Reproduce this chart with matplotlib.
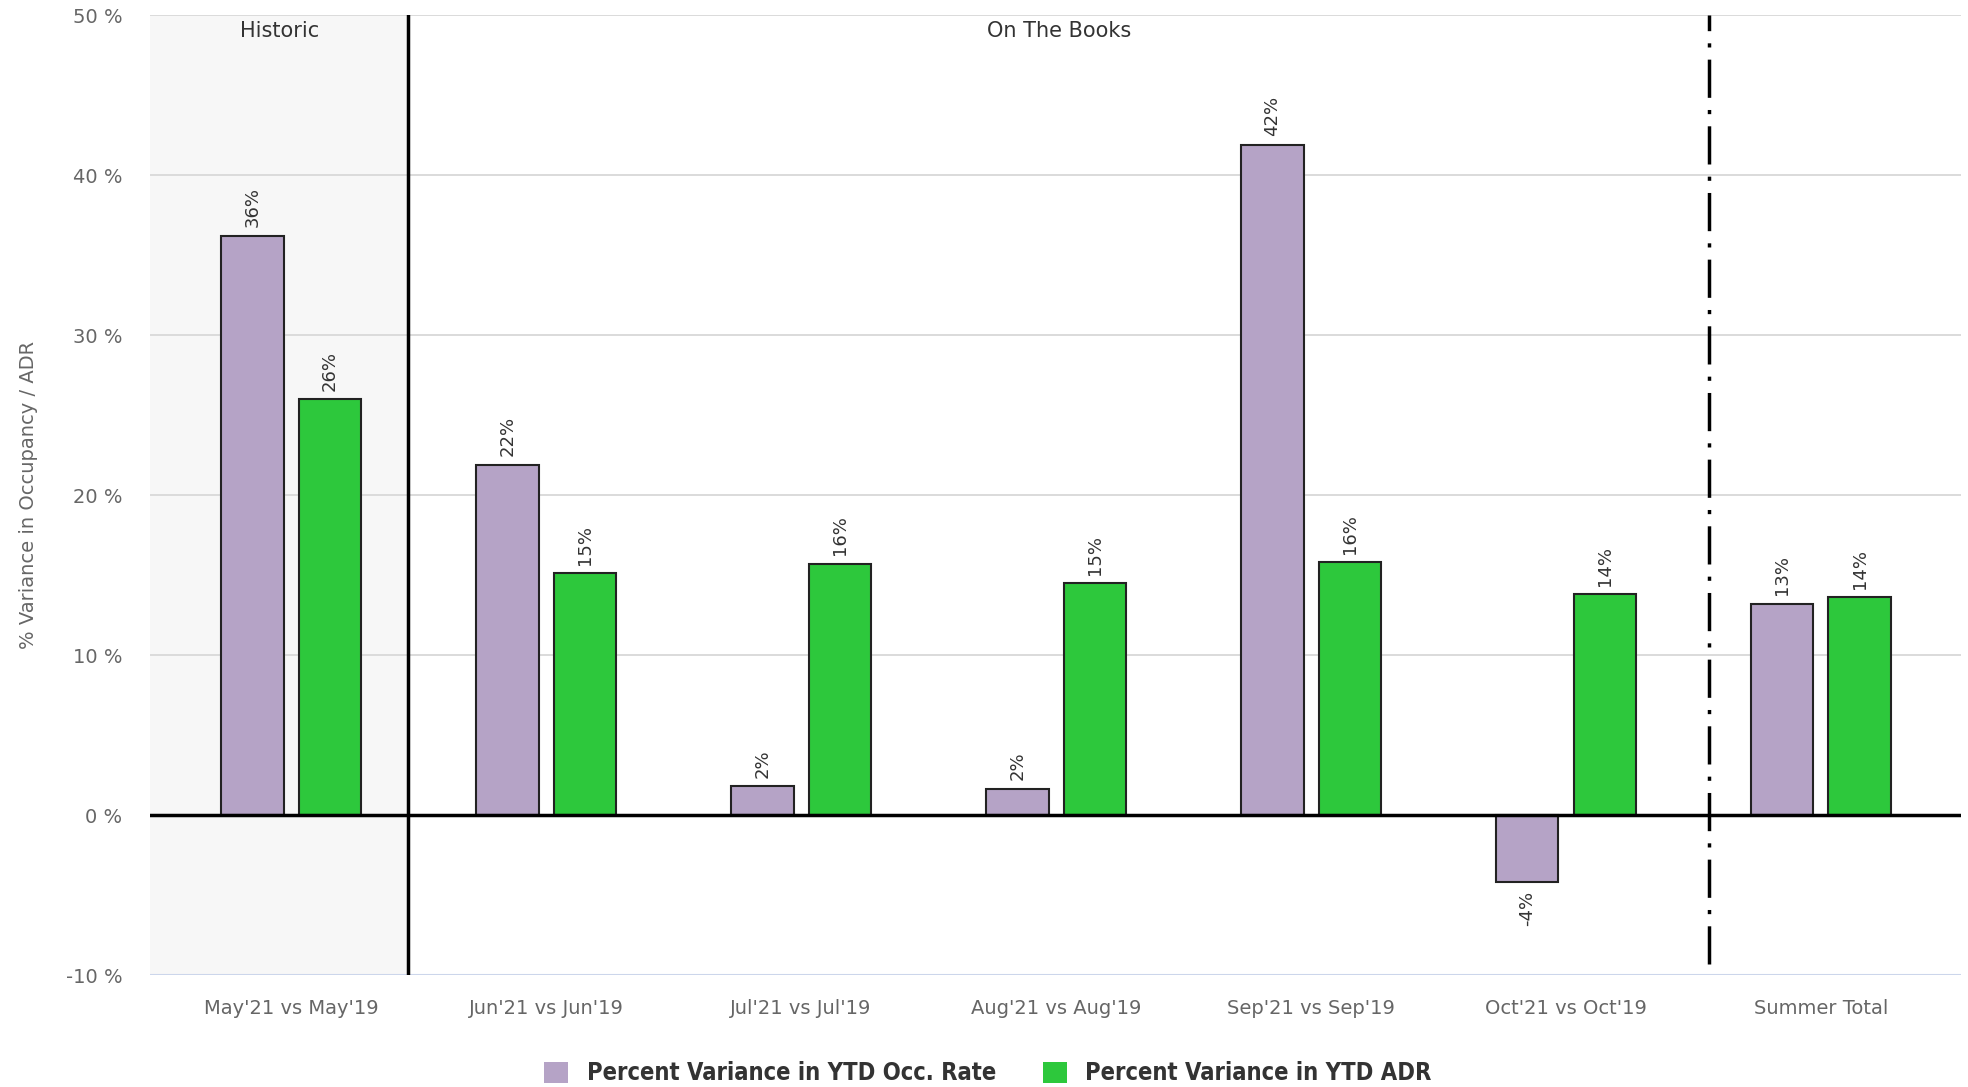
import matplotlib.pyplot as plt
import numpy as np

categories = ["May'21 vs May'19", "Jun'21 vs Jun'19", "Jul'21 vs Jul'19", "Aug'21 vs Aug'19",
              "Sep'21 vs Sep'19", "Oct'21 vs Oct'19", "Summer Total"]
occ = [36.2, 21.9, 1.8, 1.65, 41.9, -4.2, 13.2]
adr = [26.0, 15.1, 15.7, 14.5, 15.8, 13.8, 13.6]
occ_labels = ["36%", "22%", "2%", "2%", "42%", "-4%", "13%"]
adr_labels = ["26%", "15%", "16%", "15%", "16%", "14%", "14%"]
yticks = [-10, 0, 10, 20, 30, 40, 50]

purple = "#b5a3c6"
green = "#2dc83c"
grey = "#666666"

fig = plt.figure(figsize=(19.68, 10.87), dpi=100)
ax = fig.add_axes([0.0762, 0.103, 0.9202, 0.8832])

x = np.arange(len(categories))
w = 0.245
off = 0.152
xmin, xmax = -0.554, 6.549
split1, split2 = 0.46, 5.56

ax.axvspan(xmin, split1, color="#f7f7f7", zorder=0)
for t in yticks[1:]:
    ax.axhline(t, color="#d8d8d8", lw=1.3, zorder=1)
ax.axhline(-10, color="#ccd6eb", lw=1.5, zorder=1)

b1 = ax.bar(x - off, occ, w, color=purple, edgecolor="#222222", lw=1.5, zorder=3,
            label="Percent Variance in YTD Occ. Rate")
b2 = ax.bar(x + off, adr, w, color=green, edgecolor="#222222", lw=1.5, zorder=3,
            label="Percent Variance in YTD ADR")
ax.axhline(0, color="black", lw=2.5, zorder=4)

for bars, labs in ((b1, occ_labels), (b2, adr_labels)):
    for b, lab in zip(bars, labs):
        h = b.get_height()
        cx = b.get_x() + b.get_width() / 2
        if h >= 0:
            ax.annotate(lab, (cx, h), xytext=(0, 6), textcoords="offset points",
                        rotation=90, ha="center", va="bottom", fontsize=13, color="#333333")
        else:
            ax.annotate(lab, (cx, h), xytext=(0, -6), textcoords="offset points",
                        rotation=90, ha="center", va="top", fontsize=13, color="#333333")

ax.plot([split1, split1], [-10, 50], color="black", lw=2.5, zorder=5)
ax.plot([split2, split2], [-9.3, 50], color="black", lw=2.5, ls=(0, (11, 3.5, 1.2, 3.5)), zorder=5)

ax.text((xmin + split1) / 2, 49.6, "Historic", ha="center", va="top", fontsize=15, color="#333333")
ax.text((split1 + split2) / 2, 49.6, "On The Books", ha="center", va="top", fontsize=15, color="#333333")

ax.set_xlim(xmin, xmax)
ax.set_ylim(-10, 50)
ax.set_yticks(yticks)
ax.set_yticklabels([f"{t} %" for t in yticks], color=grey, fontsize=14)
ax.set_xticks(x)
ax.set_xticklabels(categories, color=grey, fontsize=14)
ax.tick_params(axis="x", length=0, pad=17)
ax.tick_params(axis="y", length=0, pad=20)
for s in ax.spines.values():
    s.set_visible(False)
ax.set_ylabel("% Variance in Occupancy / ADR", color=grey, fontsize=14, labelpad=20)

leg = fig.legend(handles=[b1, b2], loc="lower center", bbox_to_anchor=(0.502, -0.018), ncol=2,
                 frameon=False, handlelength=1.0, handleheight=1.0, columnspacing=2.0,
                 prop={"family": "DejaVu Sans", "stretch": "condensed", "weight": "bold", "size": 17})
for p in leg.get_patches():
    p.set_edgecolor("none")
for t in leg.get_texts():
    t.set_color("#333333")

fig.savefig("out.png", dpi=100)
